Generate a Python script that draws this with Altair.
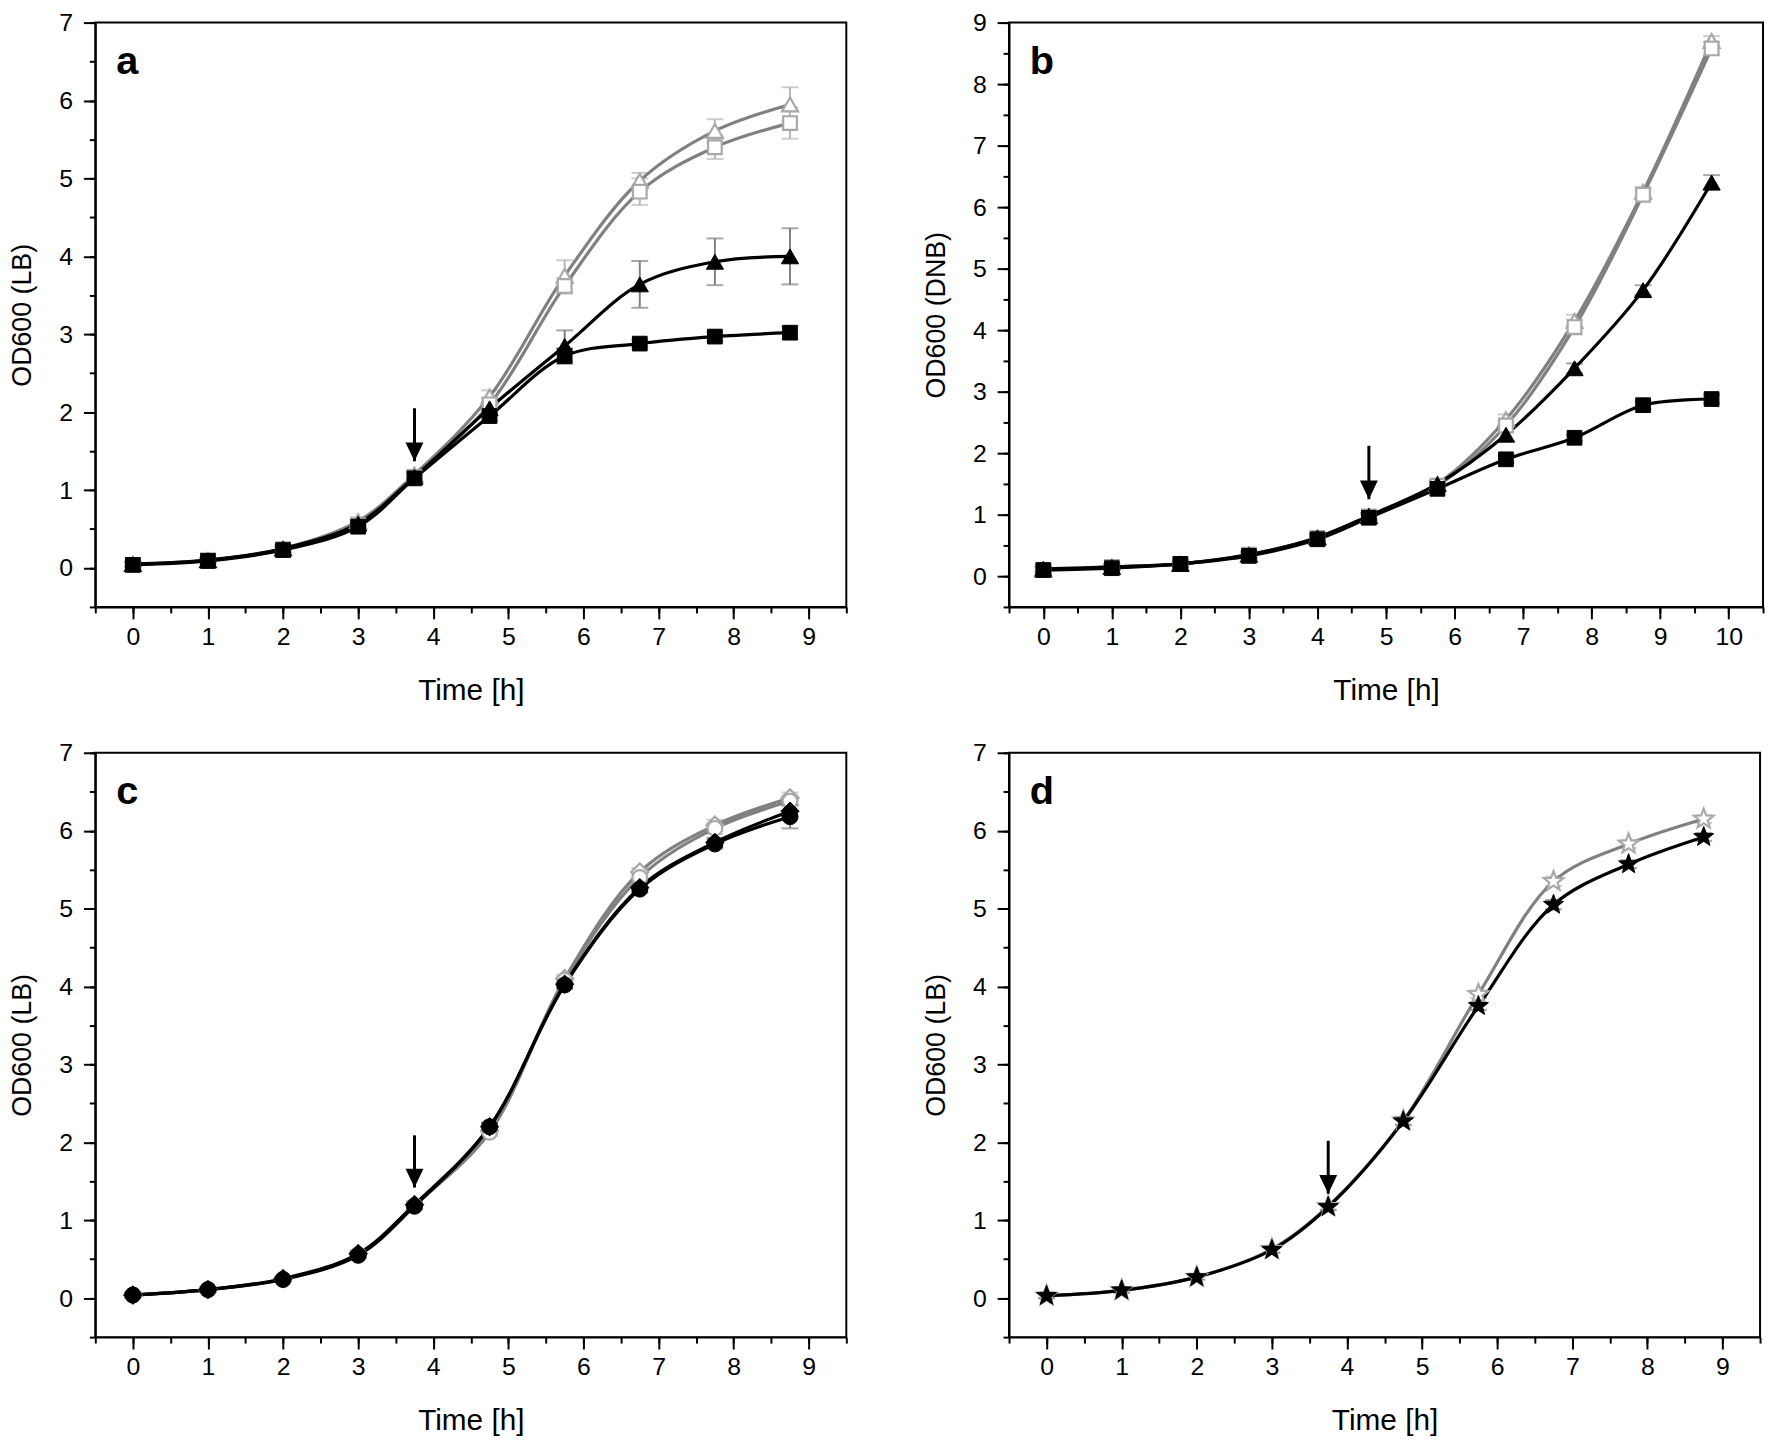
import math
import altair as alt
import pandas as pd

FONT = "Liberation Sans"

# ---------------- data ----------------
t_a = [0, 1, 2, 3, 3.75, 4.75, 5.75, 6.75, 7.75, 8.75]
t_b = [0, 1, 2, 3, 4, 4.75, 5.75, 6.75, 7.75, 8.75, 9.75]

# panel a (LB)
a_tri_open = [0.05, 0.10, 0.25, 0.60, 1.20, 2.20, 3.75, 4.97, 5.61, 5.95]
a_tri_open_err = [0.03, 0.03, 0.04, 0.05, 0.06, 0.08, 0.20, 0.10, 0.15, 0.22]
a_sq_open = [0.04, 0.10, 0.24, 0.55, 1.17, 2.10, 3.62, 4.83, 5.40, 5.71]
a_sq_open_err = [0.03, 0.03, 0.04, 0.05, 0.06, 0.08, 0.10, 0.17, 0.15, 0.20]
a_tri_fill = [0.05, 0.10, 0.25, 0.57, 1.17, 2.05, 2.85, 3.64, 3.93, 4.00]
a_tri_fill_err = [0.03, 0.03, 0.04, 0.05, 0.06, 0.06, 0.20, 0.30, 0.30, 0.36]
a_sq_fill = [0.04, 0.09, 0.23, 0.53, 1.15, 1.95, 2.72, 2.88, 2.97, 3.02]
a_sq_fill_err = [0.03, 0.03, 0.04, 0.05, 0.06, 0.06, 0.10, 0.05, 0.06, 0.08]

# panel b (DNB)
b_tri_open = [0.10, 0.15, 0.20, 0.35, 0.63, 0.98, 1.50, 2.55, 4.15, 6.25, 8.70]
b_tri_open_err = [0.05, 0.05, 0.05, 0.05, 0.05, 0.05, 0.05, 0.08, 0.10, 0.08, 0.08]
b_sq_open = [0.10, 0.15, 0.20, 0.35, 0.62, 0.97, 1.47, 2.45, 4.05, 6.20, 8.58]
b_sq_open_err = [0.05, 0.05, 0.05, 0.05, 0.05, 0.05, 0.05, 0.08, 0.12, 0.08, 0.10]
b_tri_fill = [0.12, 0.15, 0.20, 0.35, 0.63, 0.98, 1.50, 2.30, 3.38, 4.65, 6.40]
b_tri_fill_err = [0.05, 0.05, 0.05, 0.05, 0.05, 0.05, 0.05, 0.10, 0.08, 0.08, 0.12]
b_sq_fill = [0.10, 0.13, 0.20, 0.33, 0.60, 0.95, 1.42, 1.90, 2.25, 2.78, 2.88]
b_sq_fill_err = [0.05, 0.05, 0.05, 0.05, 0.05, 0.05, 0.05, 0.06, 0.05, 0.07, 0.07]

# panel c (LB)
c_dia_open = [0.04, 0.11, 0.25, 0.57, 1.20, 2.15, 4.10, 5.47, 6.07, 6.42]
c_dia_open_err = [0.03, 0.03, 0.03, 0.04, 0.04, 0.05, 0.05, 0.05, 0.07, 0.07]
c_cir_open = [0.04, 0.11, 0.24, 0.56, 1.19, 2.13, 4.08, 5.40, 6.03, 6.38]
c_cir_open_err = [0.03, 0.03, 0.03, 0.04, 0.04, 0.05, 0.05, 0.05, 0.07, 0.07]
c_dia_fill = [0.04, 0.11, 0.25, 0.57, 1.20, 2.20, 4.03, 5.27, 5.85, 6.25]
c_dia_fill_err = [0.03, 0.03, 0.03, 0.04, 0.04, 0.05, 0.05, 0.05, 0.06, 0.08]
c_cir_fill = [0.04, 0.11, 0.24, 0.55, 1.18, 2.20, 4.02, 5.25, 5.83, 6.18]
c_cir_fill_err = [0.03, 0.03, 0.03, 0.04, 0.04, 0.05, 0.05, 0.05, 0.06, 0.15]

# panel d (LB)
d_star_open = [0.03, 0.10, 0.27, 0.63, 1.18, 2.28, 3.90, 5.35, 5.83, 6.15]
d_star_open_err = [0.03, 0.03, 0.03, 0.04, 0.04, 0.05, 0.05, 0.06, 0.05, 0.05]
d_star_fill = [0.03, 0.10, 0.27, 0.62, 1.17, 2.27, 3.75, 5.05, 5.57, 5.92]
d_star_fill_err = [0.03, 0.03, 0.03, 0.04, 0.04, 0.05, 0.05, 0.06, 0.05, 0.05]

# addition arrows (time, top of arrow, tip of arrow)
arrow_a = [3.75, 2.05, 1.37]
arrow_b = [4.75, 2.12, 1.25]
arrow_c = [3.75, 2.09, 1.42]
arrow_d = [3.75, 2.02, 1.34]

# ---------------- styles ----------------
GRAY_LINE = "#808080"
GRAY_MARK = "#a8a8a8"
GRAY_ERR_LIGHT = "#b8b8b8"
GRAY_ERR_DARK = "#808080"
BLACK = "#000000"

pts = []
for k in range(10):
    r = 1.0 if k % 2 == 0 else 0.42
    ang = -math.pi / 2 + k * math.pi / 5
    pts.append(f"{r * math.cos(ang):.3f},{r * math.sin(ang):.3f}")
STAR = "M" + "L".join(pts) + "Z"
ARROW_HEAD = "M-0.95,-2L0.95,-2L0,0Z"


def steps(lo, hi, step):
    n = int(round((hi - lo) / step))
    return [lo + step * i for i in range(n + 1)]


def major_axis(values, orient, label_pad, title_pad, title_size):
    return alt.Axis(
        values=values, orient=orient, format="d",
        labelOverlap=False, labelFlush=False,
        tickSize=12, labelPadding=label_pad, grid=False,
        domainColor=BLACK, domainWidth=2, tickColor=BLACK, tickWidth=2,
        labelFont=FONT, labelFontSize=25, labelColor=BLACK,
        titleFont=FONT, titleFontSize=title_size, titleFontWeight="normal", titleColor=BLACK,
        titlePadding=title_pad,
    )


def minor_axis(values, orient):
    return alt.Axis(
        values=values, orient=orient, labels=False, domain=False, title=None,
        tickSize=6, tickColor=BLACK, tickWidth=2, grid=False,
    )


def panel(letter, times, series, ymax, xmax, ytitle, arrow, width):
    xs = alt.Scale(domain=[-0.5, xmax], nice=False, zero=False)
    ys = alt.Scale(domain=[-0.5, ymax], nice=False, zero=False)
    xax = major_axis(steps(0, math.floor(xmax), 1), "bottom", 6, 26, 30)
    yax = major_axis(steps(0, math.floor(ymax), 1), "left", 11, 22, 27)

    def X(f="x"):
        return alt.X(f"{f}:Q", scale=xs, axis=xax, title="Time [h]")

    def Y(f):
        return alt.Y(f"{f}:Q", scale=ys, axis=yax, title=ytitle)

    rows = []
    for s in series:
        for t, v, e in zip(times, s["vals"], s["err"]):
            rows.append({"series": s["name"], "x": t, "y": v, "lo": v - e, "hi": v + e})
    df = pd.DataFrame(rows)
    base = alt.Chart(df)

    layers = []
    # error bars
    for s in series:
        sub = base.transform_filter(alt.datum.series == s["name"])
        layers.append(sub.mark_rule(color=s["errc"], strokeWidth=2).encode(x=X(), y=Y("lo"), y2="hi:Q"))
        for f in ("lo", "hi"):
            layers.append(sub.mark_tick(orient="horizontal", color=s["errc"], size=17, thickness=2).encode(x=X(), y=Y(f)))
    # curves
    for s in series:
        sub = base.transform_filter(alt.datum.series == s["name"])
        layers.append(sub.mark_line(interpolate="catmull-rom", color=s["line"], strokeWidth=3.2).encode(x=X(), y=Y("y")))
    # markers
    for s in series:
        sub = base.transform_filter(alt.datum.series == s["name"])
        if s["filled"]:
            m = sub.mark_point(shape=s["shape"], filled=True, fill=BLACK, stroke=BLACK, strokeWidth=1, size=s["size"], opacity=1)
        else:
            m = sub.mark_point(shape=s["shape"], filled=False, fill="white", fillOpacity=1, stroke=s["mark"], strokeWidth=2.2, size=s["size"], opacity=1)
        layers.append(m.encode(x=X(), y=Y("y")))

    adf = pd.DataFrame({"x": [arrow[0]], "top": [arrow[1]], "tip": [arrow[2]]})
    ab = alt.Chart(adf)
    layers.append(ab.mark_rule(color=BLACK, strokeWidth=3).encode(x=X(), y=Y("top"), y2="tip:Q"))
    layers.append(ab.mark_point(shape=ARROW_HEAD, size=360, filled=True, fill=BLACK, stroke=BLACK, strokeWidth=0, opacity=1).encode(x=X(), y=Y("tip")))

    tdf = pd.DataFrame({"t": [letter]})
    layers.append(
        alt.Chart(tdf).mark_text(font=FONT, fontSize=40, fontWeight="bold", align="left", baseline="alphabetic", color=BLACK)
        .encode(x=alt.value(21), y=alt.value(52), text="t:N")
    )
    main = alt.layer(*layers)

    minor = base.mark_point(opacity=0).encode(
        x=alt.X("x:Q", scale=xs, axis=minor_axis(steps(-0.5, xmax, 0.5), "bottom")),
        y=alt.Y("y:Q", scale=ys, axis=minor_axis(steps(-0.5, ymax, 0.5), "left")),
    )
    return alt.layer(main, minor).resolve_axis(x="independent", y="independent").properties(width=width, height=589)


def S(name, vals, err, shape, filled, size, dark):
    return {
        "name": name, "vals": vals, "err": err, "shape": shape, "filled": filled, "size": size,
        "line": BLACK if dark else GRAY_LINE,
        "mark": GRAY_MARK,
        "errc": GRAY_ERR_DARK if dark else GRAY_ERR_LIGHT,
    }


pa = panel("a", t_a, [
    S("tri_open", a_tri_open, a_tri_open_err, "triangle-up", False, 260, False),
    S("sq_open", a_sq_open, a_sq_open_err, "square", False, 190, False),
    S("tri_fill", a_tri_fill, a_tri_fill_err, "triangle-up", True, 300, True),
    S("sq_fill", a_sq_fill, a_sq_fill_err, "square", True, 220, True),
], 7, 9.5, "OD600 (LB)", arrow_a, 757)

pb = panel("b", t_b, [
    S("tri_open", b_tri_open, b_tri_open_err, "triangle-up", False, 260, False),
    S("sq_open", b_sq_open, b_sq_open_err, "square", False, 190, False),
    S("tri_fill", b_tri_fill, b_tri_fill_err, "triangle-up", True, 300, True),
    S("sq_fill", b_sq_fill, b_sq_fill_err, "square", True, 220, True),
], 9, 10.5, "OD600 (DNB)", arrow_b, 760)

pc = panel("c", t_a, [
    S("dia_open", c_dia_open, c_dia_open_err, "diamond", False, 300, False),
    S("cir_open", c_cir_open, c_cir_open_err, "circle", False, 220, False),
    S("dia_fill", c_dia_fill, c_dia_fill_err, "diamond", True, 340, True),
    S("cir_fill", c_cir_fill, c_cir_fill_err, "circle", True, 260, True),
], 7, 9.5, "OD600 (LB)", arrow_c, 757)

pd_ = panel("d", t_a, [
    S("star_open", d_star_open, d_star_open_err, STAR, False, 430, False),
    S("star_fill", d_star_fill, d_star_fill_err, STAR, True, 450, True),
], 7, 9.5, "OD600 (LB)", arrow_d, 757)

chart = alt.vconcat(
    alt.hconcat(pa, pb, spacing=74),
    alt.hconcat(pc, pd_, spacing=74),
    spacing=34,
).properties(
    padding={"top": -4, "left": 0, "right": 0, "bottom": 0}, background="white"
).configure_view(
    stroke=BLACK, strokeWidth=2
)

chart.save("out.html", embed_options={"renderer": "svg", "actions": False})
